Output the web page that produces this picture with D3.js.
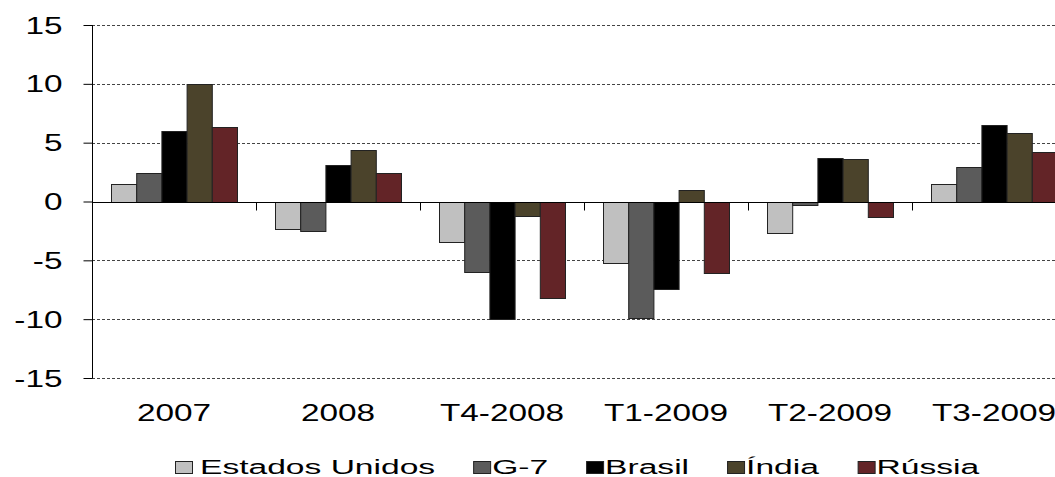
<!DOCTYPE html>
<html><head><meta charset="utf-8">
<script src="https://cdn.jsdelivr.net/npm/d3@7/dist/d3.min.js"></script>
<style>body{margin:0;background:#fff;}svg{display:block;}text{font-family:"Liberation Sans",Arial,sans-serif;fill:#000;}</style>
</head><body><svg id="c" width="1055" height="477"></svg>
<script>
const categories = ["2007","2008","T4-2008","T1-2009","T2-2009","T3-2009"];
const seriesNames = ["Estados Unidos","G-7","Brasil","Índia","Rússia"];
const estadosUnidos = [1.5,-2.3,-3.4,-5.2,-2.7,1.5];
const g7 = [2.4,-2.5,-6.0,-9.9,-0.3,2.9];
const brasil = [6.0,3.1,-10.0,-7.4,3.7,6.5];
const india = [10.0,4.4,-1.2,1.0,3.6,5.8];
const russia = [6.3,2.4,-8.2,-6.1,-1.3,4.2];
const seriesValues = [estadosUnidos,g7,brasil,india,russia];
const colors = ["#c0c0c0","#5b5b5b","#000000","#4b432b","#632427"];
const yTicks = [-15,-10,-5,0,5,10,15];

const svg = d3.select("#c");
const pLeft = 92, pRight = 1076, pTop = 25, pBottom = 378;
const axSx = 1.45, legSx = 1.68;

const x0 = d3.scaleBand().domain(categories).range([pLeft, pRight]).padding(0);
const x1 = d3.scaleBand().domain(seriesNames).range([19, 145]).padding(0);
const y = d3.scaleLinear().domain([-15, 15]).range([pBottom, pTop]);

// gridlines
svg.append("g").selectAll("line").data(yTicks.filter(d => d !== 0)).join("line")
  .attr("x1", pLeft).attr("x2", 1055)
  .attr("y1", d => Math.round(y(d)) + 0.5).attr("y2", d => Math.round(y(d)) + 0.5)
  .attr("stroke", "#444").attr("stroke-width", 1).attr("stroke-dasharray", "3,2");

// bars
const rows = [];
categories.forEach((c, i) => seriesNames.forEach((s, j) => rows.push({c, s, v: seriesValues[j][i], j})));
svg.append("g").selectAll("rect").data(rows).join("rect")
  .attr("x", d => x0(d.c) + x1(d.s) + 0.5)
  .attr("width", x1.bandwidth())
  .attr("y", d => Math.round(y(Math.max(0, d.v))) + 0.5)
  .attr("height", d => Math.abs(Math.round(y(d.v)) - Math.round(y(0))))
  .attr("fill", d => colors[d.j])
  .attr("stroke", "#222").attr("stroke-width", 1);

// zero line
const y0 = Math.round(y(0)) + 0.5;
svg.append("line").attr("x1", pLeft).attr("x2", 1055).attr("y1", y0).attr("y2", y0).attr("stroke", "#000");
// category ticks
svg.append("g").selectAll("line").data(categories.slice(1)).join("line")
  .attr("x1", d => Math.round(x0(d)) + 0.5).attr("x2", d => Math.round(x0(d)) + 0.5)
  .attr("y1", y0).attr("y2", y0 + 8).attr("stroke", "#000");

// y axis
const ya = svg.append("g").attr("transform", `translate(${pLeft + 0.5},0)`)
  .call(d3.axisLeft(y).tickValues(yTicks).tickSize(9).tickPadding(0).tickFormat(d => String(d)));
ya.select(".domain").attr("stroke", "#000").attr("d", `M0,${pTop}V${pBottom}`);
ya.selectAll(".tick line").attr("stroke", "#000");
ya.selectAll(".tick text").each(function() {
  const t = d3.select(this);
  t.attr("x", null).attr("dy", null).attr("text-anchor", "end")
   .attr("font-size", 23).attr("font-family", '"Liberation Sans",Arial,sans-serif')
   .attr("transform", `translate(-30,8) scale(${axSx},1)`);
});
ya.selectAll(".tick text").attr("fill", "#000");

// x labels
svg.append("g").selectAll("text").data(categories).join("text")
  .attr("transform", d => `translate(${x0(d) + x0.bandwidth() / 2},421) scale(${axSx},1)`)
  .attr("text-anchor", "middle").attr("font-size", 23).text(d => d);

// legend
const leg = svg.append("g");
let lx = 175;
seriesNames.forEach((s, j) => {
  leg.append("rect").attr("x", lx + 0.5).attr("y", 461.5).attr("width", 17).attr("height", 12)
    .attr("fill", colors[j]).attr("stroke", "#222");
  const off = j === 0 ? 25 : 19;
  const t = leg.append("text").attr("transform", `translate(${lx + off},474) scale(${legSx},1)`)
    .attr("font-size", 20).text(s);
  const w = t.node().getBBox().width * legSx;
  lx = lx + off + w + 38;
});
</script></body></html>
